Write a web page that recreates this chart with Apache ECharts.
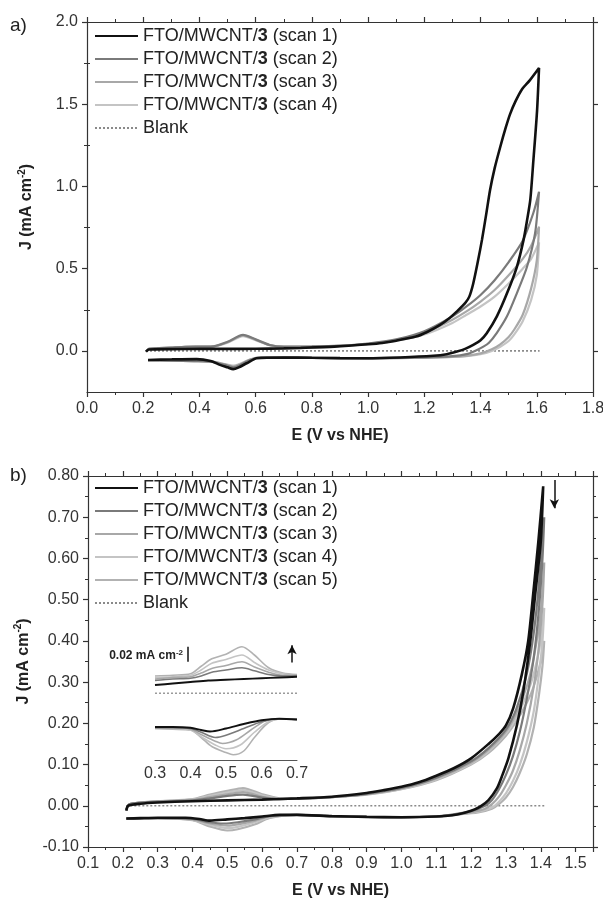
<!DOCTYPE html>
<html>
<head>
<meta charset="utf-8">
<script src="https://cdn.jsdelivr.net/npm/echarts@6/dist/echarts.min.js"></script>
<style>
  html, body { margin: 0; padding: 0; background: #fff; }
  #chart { width: 603px; height: 901px; }
</style>
</head>
<body>
<div id="chart"></div>
<script>
// ---- panel a) data : [E (V vs NHE), J (mA cm-2)] ----
const aNames = ['FTO/MWCNT/3 (scan 1)', 'FTO/MWCNT/3 (scan 2)', 'FTO/MWCNT/3 (scan 3)', 'FTO/MWCNT/3 (scan 4)', 'Blank'];
const a_scan1 = [[0.21,-0.005],[0.22,0.008],[0.3,0.011],[0.4,0.012],[0.5,0.012],[0.6,0.013],[0.7,0.015],[0.76,0.018],[0.88,0.026],[1.0,0.04],[1.05,0.048],[1.1,0.062],[1.17,0.087],[1.21,0.115],[1.256,0.158],[1.29,0.2],[1.316,0.24],[1.345,0.29],[1.36,0.33],[1.374,0.41],[1.39,0.54],[1.405,0.675],[1.42,0.83],[1.434,0.98],[1.45,1.11],[1.47,1.24],[1.49,1.36],[1.505,1.44],[1.525,1.52],[1.547,1.59],[1.575,1.645],[1.608,1.72],
  [1.601,1.46],[1.588,1.16],[1.577,0.92],[1.565,0.79],[1.553,0.675],[1.529,0.51],[1.494,0.35],[1.458,0.21],[1.422,0.107],[1.4,0.065],[1.374,0.036],[1.345,0.012],[1.316,-0.004],[1.28,-0.02],[1.232,-0.03],[1.114,-0.04],[0.995,-0.045],[0.9,-0.044],[0.8,-0.042],[0.7,-0.04],[0.604,-0.045],[0.568,-0.075],[0.54,-0.1],[0.52,-0.111],[0.5,-0.1],[0.473,-0.085],[0.44,-0.062],[0.39,-0.05],[0.3,-0.052],[0.217,-0.055]];
const a_scan2 = [[0.21,-0.005],[0.22,0.012],[0.3,0.02],[0.35,0.025],[0.45,0.028],[0.5,0.055],[0.555,0.097],[0.6,0.07],[0.65,0.036],[0.7,0.026],[0.8,0.027],[0.9,0.032],[1.0,0.045],[1.1,0.07],[1.2,0.12],[1.3,0.21],[1.35,0.27],[1.4,0.34],[1.45,0.43],[1.5,0.54],[1.55,0.67],[1.588,0.84],[1.608,0.968],
  [1.594,0.716],[1.565,0.51],[1.529,0.35],[1.494,0.21],[1.458,0.11],[1.43,0.05],[1.41,0.026],[1.38,0.0],[1.35,-0.02],[1.3,-0.032],[1.2,-0.04],[1.0,-0.045],[0.8,-0.042],[0.62,-0.04],[0.58,-0.055],[0.54,-0.09],[0.52,-0.1],[0.49,-0.085],[0.44,-0.065],[0.38,-0.062],[0.3,-0.06],[0.217,-0.056]];
const a_scan3 = [[0.21,-0.005],[0.22,0.012],[0.3,0.02],[0.35,0.025],[0.45,0.028],[0.5,0.053],[0.555,0.094],[0.6,0.068],[0.65,0.035],[0.7,0.025],[0.8,0.026],[0.9,0.031],[1.0,0.043],[1.1,0.066],[1.2,0.11],[1.3,0.19],[1.35,0.24],[1.4,0.3],[1.45,0.37],[1.5,0.46],[1.55,0.56],[1.58,0.64],[1.608,0.755],
  [1.6,0.55],[1.58,0.38],[1.55,0.22],[1.52,0.13],[1.5,0.085],[1.47,0.04],[1.44,0.01],[1.4,-0.015],[1.35,-0.03],[1.3,-0.036],[1.2,-0.041],[1.0,-0.045],[0.8,-0.042],[0.62,-0.04],[0.58,-0.053],[0.54,-0.085],[0.52,-0.095],[0.49,-0.082],[0.44,-0.064],[0.38,-0.062],[0.3,-0.06],[0.217,-0.056]];
const a_scan4 = [[0.21,-0.005],[0.22,0.012],[0.3,0.019],[0.35,0.024],[0.45,0.027],[0.5,0.05],[0.555,0.09],[0.6,0.065],[0.65,0.034],[0.7,0.024],[0.8,0.025],[0.9,0.03],[1.0,0.041],[1.1,0.062],[1.2,0.1],[1.3,0.17],[1.35,0.22],[1.4,0.27],[1.45,0.33],[1.5,0.41],[1.55,0.5],[1.58,0.56],[1.608,0.66],
  [1.6,0.46],[1.58,0.31],[1.55,0.18],[1.52,0.1],[1.5,0.06],[1.47,0.025],[1.44,0.0],[1.4,-0.02],[1.35,-0.032],[1.3,-0.037],[1.2,-0.041],[1.0,-0.045],[0.8,-0.042],[0.62,-0.04],[0.58,-0.052],[0.54,-0.082],[0.52,-0.09],[0.49,-0.08],[0.44,-0.064],[0.38,-0.062],[0.3,-0.06],[0.217,-0.056]];
const a_blank = [[0.21,0.0],[0.6,0.0],[1.0,0.0],[1.4,0.0],[1.61,0.0]];

// ---- panel b) data ----
const bNames = ['FTO/MWCNT/3 (scan 1)', 'FTO/MWCNT/3 (scan 2)', 'FTO/MWCNT/3 (scan 3)', 'FTO/MWCNT/3 (scan 4)', 'FTO/MWCNT/3 (scan 5)', 'Blank'];
const b_scan1 = [[0.21,-0.012],[0.215,0.0],[0.25,0.005],[0.3,0.008],[0.4,0.011],[0.5,0.013],[0.6,0.015],[0.7,0.018],[0.8,0.022],[0.9,0.031],[0.95,0.038],[1.0,0.046],[1.05,0.057],[1.1,0.073],[1.15,0.091],[1.2,0.115],[1.25,0.15],[1.28,0.174],[1.3,0.195],[1.321,0.237],[1.346,0.32],[1.364,0.4],[1.379,0.52],[1.393,0.64],[1.407,0.775],
  [1.4,0.64],[1.385,0.52],[1.37,0.4],[1.35,0.278],[1.332,0.197],[1.307,0.115],[1.29,0.075],[1.274,0.042],[1.25,0.014],[1.226,-0.002],[1.2,-0.012],[1.16,-0.021],[1.1,-0.026],[1.0,-0.028],[0.9,-0.027],[0.8,-0.025],[0.7,-0.022],[0.65,-0.022],[0.6,-0.026],[0.55,-0.03],[0.5,-0.033],[0.45,-0.036],[0.42,-0.032],[0.38,-0.029],[0.3,-0.029],[0.25,-0.03],[0.21,-0.031]];
const b_scan2 = [[0.21,-0.01],[0.22,0.004],[0.3,0.01],[0.4,0.013],[0.45,0.018],[0.5,0.024],[0.545,0.027],[0.6,0.02],[0.65,0.016],[0.7,0.017],[0.8,0.021],[0.9,0.029],[1.0,0.043],[1.1,0.068],[1.2,0.108],[1.25,0.14],[1.3,0.185],[1.33,0.235],[1.36,0.32],[1.38,0.42],[1.395,0.54],[1.41,0.7],
  [1.405,0.6],[1.395,0.48],[1.38,0.36],[1.36,0.26],[1.34,0.18],[1.32,0.12],[1.3,0.075],[1.28,0.04],[1.26,0.014],[1.24,0.0],[1.2,-0.013],[1.15,-0.021],[1.1,-0.026],[1.0,-0.028],[0.9,-0.027],[0.8,-0.025],[0.7,-0.022],[0.62,-0.025],[0.58,-0.033],[0.53,-0.04],[0.49,-0.043],[0.45,-0.04],[0.4,-0.032],[0.3,-0.03],[0.21,-0.031]];
const b_scan3 = [[0.21,-0.01],[0.22,0.004],[0.3,0.01],[0.4,0.014],[0.45,0.021],[0.5,0.028],[0.545,0.033],[0.6,0.022],[0.65,0.016],[0.7,0.017],[0.8,0.021],[0.9,0.028],[1.0,0.042],[1.1,0.066],[1.2,0.105],[1.25,0.136],[1.3,0.18],[1.33,0.225],[1.36,0.29],[1.38,0.36],[1.4,0.47],[1.41,0.59],
  [1.405,0.49],[1.395,0.39],[1.38,0.29],[1.36,0.2],[1.34,0.135],[1.32,0.085],[1.3,0.05],[1.28,0.022],[1.26,0.004],[1.24,-0.007],[1.2,-0.016],[1.15,-0.022],[1.1,-0.026],[1.0,-0.028],[0.9,-0.027],[0.8,-0.025],[0.7,-0.022],[0.62,-0.026],[0.58,-0.036],[0.53,-0.045],[0.5,-0.048],[0.45,-0.043],[0.4,-0.033],[0.3,-0.03],[0.21,-0.031]];
const b_scan4 = [[0.21,-0.01],[0.22,0.004],[0.3,0.011],[0.4,0.015],[0.45,0.024],[0.5,0.032],[0.545,0.038],[0.6,0.025],[0.65,0.017],[0.7,0.017],[0.8,0.021],[0.9,0.028],[1.0,0.041],[1.1,0.064],[1.2,0.102],[1.25,0.132],[1.3,0.175],[1.33,0.215],[1.36,0.27],[1.38,0.32],[1.4,0.4],[1.41,0.48],
  [1.405,0.4],[1.395,0.32],[1.38,0.23],[1.36,0.155],[1.34,0.1],[1.32,0.06],[1.3,0.03],[1.28,0.01],[1.26,-0.004],[1.22,-0.014],[1.15,-0.022],[1.1,-0.026],[1.0,-0.028],[0.9,-0.027],[0.8,-0.025],[0.7,-0.022],[0.62,-0.028],[0.58,-0.04],[0.53,-0.051],[0.5,-0.054],[0.45,-0.046],[0.4,-0.034],[0.3,-0.03],[0.21,-0.031]];
const b_scan5 = [[0.21,-0.01],[0.22,0.004],[0.3,0.011],[0.4,0.016],[0.45,0.027],[0.5,0.036],[0.545,0.043],[0.6,0.028],[0.65,0.018],[0.7,0.017],[0.8,0.021],[0.9,0.027],[1.0,0.04],[1.1,0.062],[1.2,0.1],[1.25,0.128],[1.3,0.17],[1.33,0.205],[1.36,0.25],[1.38,0.29],[1.4,0.35],[1.41,0.4],
  [1.405,0.34],[1.395,0.27],[1.38,0.19],[1.36,0.125],[1.34,0.08],[1.32,0.045],[1.3,0.02],[1.28,0.004],[1.26,-0.007],[1.22,-0.016],[1.15,-0.022],[1.1,-0.026],[1.0,-0.028],[0.9,-0.027],[0.8,-0.025],[0.7,-0.022],[0.62,-0.03],[0.58,-0.045],[0.53,-0.057],[0.5,-0.06],[0.45,-0.05],[0.4,-0.035],[0.3,-0.03],[0.21,-0.031]];
const b_blank = [[0.21,0.0],[0.6,0.0],[1.0,0.0],[1.41,0.0]];

// ---- inset of b) (offset traces, 0.02 mA cm-2 scale bar) ----
const in_up1 = [[0.3,-0.01],[0.35,-0.008],[0.4,-0.006],[0.45,-0.004],[0.5,-0.003],[0.55,-0.002],[0.6,-0.001],[0.65,0.0],[0.7,0.001]];
const in_up2 = [[0.3,-0.004],[0.35,-0.002],[0.4,-0.001],[0.43,0.002],[0.46,0.007],[0.5,0.01],[0.545,0.013],[0.58,0.009],[0.62,0.004],[0.66,0.002],[0.7,0.002]];
const in_up3 = [[0.3,-0.002],[0.35,0.0],[0.4,0.001],[0.43,0.006],[0.46,0.012],[0.5,0.016],[0.545,0.021],[0.58,0.014],[0.62,0.007],[0.66,0.003],[0.7,0.003]];
const in_up4 = [[0.3,0.0],[0.35,0.001],[0.4,0.003],[0.43,0.01],[0.46,0.019],[0.5,0.024],[0.545,0.03],[0.58,0.02],[0.62,0.01],[0.66,0.005],[0.7,0.003]];
const in_up5 = [[0.3,0.002],[0.35,0.003],[0.4,0.005],[0.43,0.015],[0.46,0.025],[0.5,0.031],[0.545,0.041],[0.58,0.03],[0.62,0.013],[0.66,0.006],[0.7,0.004]];
const in_blank = [[0.3,-0.021],[0.5,-0.021],[0.7,-0.021]];
const in_dn1 = [[0.3,-0.066],[0.35,-0.066],[0.4,-0.067],[0.43,-0.07],[0.455,-0.072],[0.5,-0.068],[0.55,-0.062],[0.6,-0.057],[0.65,-0.055],[0.7,-0.056]];
const in_dn2 = [[0.3,-0.067],[0.35,-0.067],[0.4,-0.068],[0.43,-0.073],[0.47,-0.08],[0.5,-0.077],[0.55,-0.068],[0.6,-0.059],[0.65,-0.055],[0.7,-0.056]];
const in_dn3 = [[0.3,-0.067],[0.35,-0.067],[0.4,-0.069],[0.43,-0.076],[0.47,-0.085],[0.49,-0.088],[0.53,-0.083],[0.57,-0.07],[0.61,-0.058],[0.65,-0.055],[0.7,-0.056]];
const in_dn4 = [[0.3,-0.068],[0.35,-0.068],[0.4,-0.07],[0.43,-0.079],[0.47,-0.09],[0.5,-0.095],[0.54,-0.09],[0.58,-0.073],[0.62,-0.059],[0.66,-0.055],[0.7,-0.056]];
const in_dn5 = [[0.3,-0.068],[0.35,-0.069],[0.4,-0.07],[0.43,-0.08],[0.46,-0.092],[0.5,-0.1],[0.52,-0.103],[0.55,-0.098],[0.58,-0.08],[0.62,-0.06],[0.66,-0.055],[0.7,-0.056]];
const inScaleBar = [[0.393,0.041],[0.393,0.021]];
const inArrow = [[0.686,0.02],[0.686,0.043]];
const bArrow = [[1.439,0.79],[1.439,0.722]];

const FONT = '"Liberation Sans", Arial, Helvetica, sans-serif';
const colors = ['#111111', '#7a7a7a', '#a8a8a8', '#c4c4c4', '#b2b2b2'];
const widths = [2.6, 2.2, 2.2, 2.2, 2.2];
const AXC = '#333';

let dom = document.getElementById('chart');
let myChart = echarts.init(dom, null, {renderer: 'canvas'});

function legendText(name) {
  if (name === 'Blank') return '{n|Blank}';
  let m = name.match(/^FTO\/MWCNT\/3(.*)$/);
  return '{n|FTO/MWCNT/}{b|3}{n|' + m[1] + '}';
}
const legendRich = {
  n: {fontSize: 18, fontFamily: FONT, color: '#222', lineHeight: 20},
  b: {fontSize: 18, fontFamily: FONT, color: '#222', fontWeight: 'bold', lineHeight: 20}
};
const nameRich = {
  t: {fontSize: 16, fontFamily: FONT, fontWeight: 'bold', color: '#222', lineHeight: 20},
  s: {fontSize: 10, fontFamily: FONT, fontWeight: 'bold', color: '#222', verticalAlign: 'top', lineHeight: 12}
};

function xAx(grid, min, max, interval, pos, labels, digits, extra) {
  let ax = {
    type: 'value', gridIndex: grid, min: min, max: max, interval: interval, position: pos,
    axisLine: {show: true, onZero: false, lineStyle: {color: AXC, width: 1.2}},
    axisTick: {show: true, inside: false, length: 5, lineStyle: {color: AXC, width: 1.2}},
    minorTick: {show: true, splitNumber: 2, length: 3, lineStyle: {color: AXC, width: 1}},
    splitLine: {show: false},
    axisLabel: {show: labels, margin: 9, fontSize: 16, color: '#333', fontFamily: FONT, showMaxLabel: false,
      formatter: function (v) { return v.toFixed(digits); }}
  };
  return Object.assign(ax, extra || {});
}

let xAxis = [
  xAx(0, 0, 1.8, 0.2, 'bottom', true, 1, {
    name: 'E (V vs NHE)', nameLocation: 'middle', nameGap: 36,
    nameTextStyle: {fontSize: 16, fontWeight: 'bold', fontFamily: FONT, color: '#222'},
    axisLabel: {show: true, margin: 9, fontSize: 16, color: '#333', fontFamily: FONT,
      formatter: function (v) { return v.toFixed(1); }}
  }),
  xAx(0, 0, 1.8, 0.2, 'top', false, 1),
  xAx(1, 0.1, 1.55, 0.1, 'bottom', true, 1, {
    name: 'E (V vs NHE)', nameLocation: 'middle', nameGap: 36,
    nameTextStyle: {fontSize: 16, fontWeight: 'bold', fontFamily: FONT, color: '#222'}
  }),
  xAx(1, 0.1, 1.55, 0.1, 'top', false, 1),
  // inset axis
  {
    type: 'value', gridIndex: 2, min: 0.3, max: 0.7, interval: 0.1, position: 'bottom',
    axisLine: {show: true, onZero: false, lineStyle: {color: '#555', width: 1}},
    axisTick: {show: false}, splitLine: {show: false},
    axisLabel: {margin: 6, fontSize: 16, color: '#333', fontFamily: FONT,
      formatter: function (v) { return v.toFixed(1); }}
  }
];

function yAx(grid, min, max, interval, pos, labels, digits, extra) {
  let ax = {
    type: 'value', gridIndex: grid, min: min, max: max, interval: interval, position: pos,
    axisLine: {show: true, onZero: false, lineStyle: {color: AXC, width: 1.2}},
    axisTick: {show: true, inside: false, length: 5, lineStyle: {color: AXC, width: 1.2}},
    minorTick: {show: true, splitNumber: 2, length: 3, lineStyle: {color: AXC, width: 1}},
    splitLine: {show: false},
    axisLabel: {show: labels, margin: 9, fontSize: 16, color: '#333', fontFamily: FONT,
      formatter: function (v) { return v.toFixed(digits); }}
  };
  return Object.assign(ax, extra || {});
}
const aMajor = [0, 0.5, 1.0, 1.5, 2.0];
const aMinor = [0.25, 0.75, 1.25, 1.75];

let yAxis = [
  yAx(0, -0.25, 2.0, 0.25, 'left', true, 1, {
    name: '{t|J (mA cm}{s|-2}{t|)}', nameLocation: 'middle', nameGap: 50, nameRotate: 90,
    nameTextStyle: {rich: nameRich},
    axisTick: {show: true, length: 5, customValues: aMajor, lineStyle: {color: AXC, width: 1.2}},
    minorTick: {show: false},
    axisLabel: {show: true, margin: 9, fontSize: 16, color: '#333', fontFamily: FONT, customValues: aMajor,
      formatter: function (v) { return v.toFixed(1); }}
  }),
  yAx(0, -0.25, 2.0, 0.25, 'right', false, 1, {
    axisTick: {show: true, length: 5, customValues: aMajor, lineStyle: {color: AXC, width: 1.2}},
    minorTick: {show: false}
  }),
  yAx(1, -0.1, 0.8, 0.1, 'left', true, 2, {
    name: '{t|J (mA cm}{s|-2}{t|)}', nameLocation: 'middle', nameGap: 50, nameRotate: 90,
    nameTextStyle: {rich: nameRich}
  }),
  yAx(1, -0.1, 0.8, 0.1, 'right', false, 2),
  // inset value axis (hidden)
  {type: 'value', gridIndex: 2, min: -0.11, max: 0.05, show: false, splitLine: {show: false}},
  // minor ticks of panel a) y axes
  yAx(0, -0.25, 2.0, 0.25, 'left', false, 1, {
    axisLine: {show: false},
    axisTick: {show: true, length: 3, customValues: aMinor, lineStyle: {color: AXC, width: 1}},
    minorTick: {show: false}
  }),
  yAx(0, -0.25, 2.0, 0.25, 'right', false, 1, {
    axisLine: {show: false},
    axisTick: {show: true, length: 3, customValues: aMinor, lineStyle: {color: AXC, width: 1}},
    minorTick: {show: false}
  })
];

function scan(name, data, idx, xi, yi) {
  return {
    type: 'line', name: name, data: data, xAxisIndex: xi, yAxisIndex: yi,
    symbol: 'none', smooth: 0.25, animation: false,
    lineStyle: {color: colors[idx], width: widths[idx]},
    itemStyle: {color: colors[idx]},
    z: 10 - idx
  };
}
function blank(name, data, xi, yi) {
  return {
    type: 'line', name: name, data: data, xAxisIndex: xi, yAxisIndex: yi,
    symbol: 'none', animation: false, z: 3,
    lineStyle: {color: '#8a8a8a', width: 1.6, type: [2, 2]},
    itemStyle: {color: '#8a8a8a'}
  };
}
function insetLine(data, idx) {
  return {
    type: 'line', data: data, xAxisIndex: 4, yAxisIndex: 4,
    symbol: 'none', smooth: 0.3, animation: false, silent: true,
    lineStyle: {color: colors[idx], width: idx === 0 ? 2 : 1.6},
    z: 10 - idx
  };
}
function arrowLine(pts, xi, yi, withHead) {
  return {
    type: 'line', data: [], xAxisIndex: xi, yAxisIndex: yi, silent: true, animation: false,
    markLine: {
      silent: true, animation: false,
      symbol: withHead ? ['none', 'arrow'] : ['none', 'none'], symbolSize: [7, 9],
      label: {show: false},
      lineStyle: {color: '#111', width: 1.5, type: 'solid'},
      data: [[{coord: pts[0]}, {coord: pts[1]}]]
    }
  };
}

let series = [
  blank('Blank', a_blank, 0, 0),
  scan(aNames[3], a_scan4, 3, 0, 0),
  scan(aNames[2], a_scan3, 2, 0, 0),
  scan(aNames[1], a_scan2, 1, 0, 0),
  scan(aNames[0], a_scan1, 0, 0, 0),

  blank('Blank', b_blank, 2, 2),
  scan(bNames[4], b_scan5, 4, 2, 2),
  scan(bNames[3], b_scan4, 3, 2, 2),
  scan(bNames[2], b_scan3, 2, 2, 2),
  scan(bNames[1], b_scan2, 1, 2, 2),
  scan(bNames[0], b_scan1, 0, 2, 2),
  arrowLine(bArrow, 2, 2, true),

  {type: 'line', data: in_blank, xAxisIndex: 4, yAxisIndex: 4, symbol: 'none', animation: false, silent: true,
    lineStyle: {color: '#9a9a9a', width: 1.4, type: [2, 2]}},
  insetLine(in_up5, 4), insetLine(in_up4, 3), insetLine(in_up3, 2), insetLine(in_up2, 1), insetLine(in_up1, 0),
  insetLine(in_dn5, 4), insetLine(in_dn4, 3), insetLine(in_dn3, 2), insetLine(in_dn2, 1), insetLine(in_dn1, 0),
  arrowLine(inScaleBar, 4, 4, false),
  arrowLine(inArrow, 4, 4, true)
];

const legendBase = {
  orient: 'vertical', left: 94, itemWidth: 43, itemHeight: 14, itemGap: 5,
  padding: 0, selectedMode: false, formatter: legendText,
  itemStyle: {opacity: 0, borderWidth: 0},
  lineStyle: {opacity: 1},
  textStyle: {rich: legendRich}
};

let option = {
  backgroundColor: '#fff',
  animation: false,
  grid: [
    {left: 87, right: 10, top: 22, height: 370, outerBoundsMode: 'none'},
    {left: 88, right: 10, top: 476, bottom: 54, outerBoundsMode: 'none'},
    {left: 155, width: 142, top: 640, height: 120, outerBoundsMode: 'none'}
  ],
  legend: [
    Object.assign({data: aNames, top: 27}, legendBase),
    Object.assign({data: bNames, top: 479}, legendBase)
  ],
  xAxis: xAxis,
  yAxis: yAxis,
  series: series,
  graphic: [
    {type: 'text', left: 10, top: 16, style: {text: 'a)', fontSize: 19, fontFamily: FONT, fill: '#222'}},
    {type: 'text', left: 10, top: 466, style: {text: 'b)', fontSize: 19, fontFamily: FONT, fill: '#222'}},
    {type: 'text', x: 183, y: 656, style: {
      text: '{b|0.02 mA cm}{s|-2}', align: 'right', verticalAlign: 'middle',
      rich: {
        b: {fontSize: 12, fontWeight: 'bold', fontFamily: FONT, fill: '#222', lineHeight: 14},
        s: {fontSize: 8, fontWeight: 'bold', fontFamily: FONT, fill: '#222', verticalAlign: 'top', lineHeight: 8}
      }
    }}
  ]
};

if (option && typeof option === 'object') {
  myChart.setOption(option, true);
}
</script>
</body>
</html>
